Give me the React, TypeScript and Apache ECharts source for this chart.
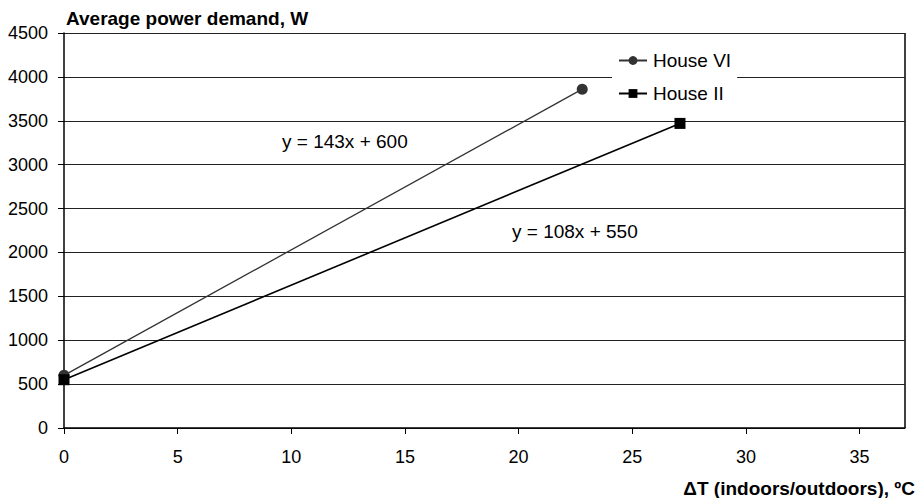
import React, { useEffect, useRef } from "react";
import * as echarts from "echarts";

const houseVI: [number, number][] = [
  [0, 600],
  [22.8, 3860],
];
const houseII: [number, number][] = [
  [0, 550],
  [27.1, 3470],
];
const seriesNames = ["House VI", "House II"];
const equations = ["y = 143x + 600", "y = 108x + 550"];
const yTitle = "Average power demand, W";
const xTitle = "ΔT (indoors/outdoors), ºC";

export default function App() {
  const ref = useRef<HTMLDivElement>(null);
  useEffect(() => {
    if (!ref.current) return;
    const chart = echarts.init(ref.current, undefined, { renderer: "svg" });
    const font = "'Liberation Sans', Arial, sans-serif";
    chart.setOption({
      animation: false,
      textStyle: { fontFamily: font },
      grid: { left: 64, right: 11, top: 33, bottom: 70, containLabel: false },
      xAxis: {
        type: "value",
        min: 0,
        max: 37,
        interval: 5,
        axisLine: { onZero: false, lineStyle: { color: "#000", width: 1.5 } },
        axisTick: { show: true, length: 6, lineStyle: { color: "#000" } },
        axisLabel: {
          color: "#000",
          fontSize: 18,
          fontFamily: font,
          margin: 20,
          showMaxLabel: false,
        },
        splitLine: { show: false },
      },
      yAxis: {
        type: "value",
        min: 0,
        max: 4500,
        interval: 500,
        axisLine: { show: true, lineStyle: { color: "#000", width: 1.5 } },
        axisTick: { show: true, length: 6, lineStyle: { color: "#000" } },
        axisLabel: {
          color: "#000",
          fontSize: 18,
          fontFamily: font,
          margin: 16,
          formatter: (v: number) => String(v),
        },
        splitLine: { show: true, lineStyle: { color: "#222", width: 1 } },
      },
      legend: {
        orient: "vertical",
        left: 612,
        top: 45,
        backgroundColor: "#fff",
        padding: [6, 6, 6, 6],
        itemGap: 14,
        itemWidth: 28,
        itemHeight: 11,
        textStyle: { fontSize: 19, color: "#000", fontFamily: font, padding: [0, 0, 0, 1] },
        data: seriesNames,
      },
      graphic: [
        {
          type: "text",
          x: 66,
          y: 18,
          style: {
            text: yTitle,
            font: `bold 19px ${font}`,
            fill: "#000",
            verticalAlign: "middle",
          },
        },
        {
          type: "text",
          x: 915,
          y: 488,
          style: {
            text: xTitle,
            font: `bold 19px ${font}`,
            fill: "#000",
            align: "right",
            verticalAlign: "middle",
          },
        },
        {
          type: "line",
          shape: { x1: 905, y1: 33, x2: 905, y2: 428 },
          style: { stroke: "#000", lineWidth: 1.5 },
          silent: true,
        },
        {
          type: "text",
          x: 282,
          y: 141,
          style: { text: equations[0], font: `19px ${font}`, fill: "#000", verticalAlign: "middle" },
        },
        {
          type: "text",
          x: 512,
          y: 231,
          style: { text: equations[1], font: `19px ${font}`, fill: "#000", verticalAlign: "middle" },
        },
      ],
      series: [
        {
          name: seriesNames[0],
          type: "line",
          data: houseVI,
          symbol: "circle",
          symbolSize: 11,
          itemStyle: { color: "#333" },
          lineStyle: { color: "#333", width: 1.3 },
          z: 3,
        },
        {
          name: seriesNames[1],
          type: "line",
          data: houseII,
          symbol: "rect",
          symbolSize: 11,
          itemStyle: { color: "#000" },
          lineStyle: { color: "#000", width: 1.6 },
          z: 4,
        },
      ],
    });
    return () => chart.dispose();
  }, []);
  return <div ref={ref} style={{ width: 916, height: 498, position: "absolute", left: 0, top: 0, background: "#fff" }} />;
}
